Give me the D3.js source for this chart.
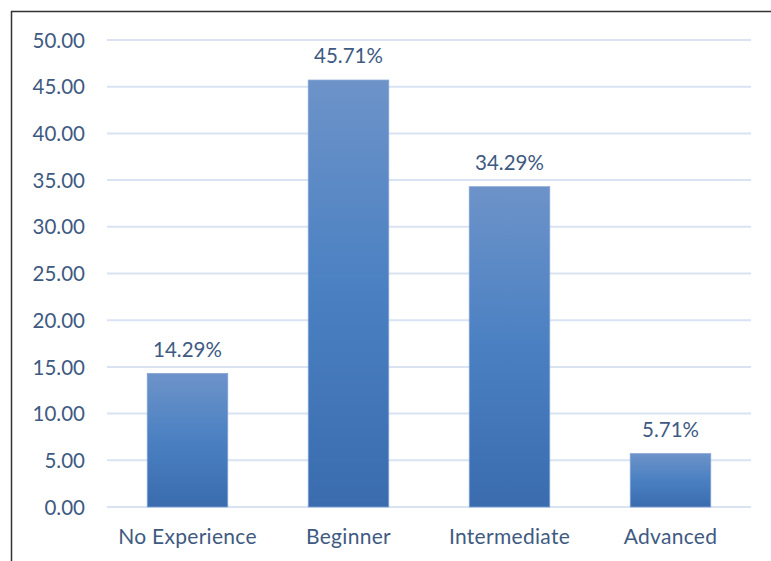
<!DOCTYPE html>
<html>
<head>
<meta charset="utf-8">
<script src="https://cdn.jsdelivr.net/npm/d3@7"></script>
<style>
  html, body { margin: 0; padding: 0; background: #fff; }
  svg { display: block; }
  text { font-family: Lato, "Open Sans", sans-serif; fill: #3e5a82; }
</style>
</head>
<body>
<script>
// Experience level distribution (percent of respondents)
const categories = ["No Experience", "Beginner", "Intermediate", "Advanced"];
const values = [14.29, 45.71, 34.29, 5.71];
const tickValues = [0, 5, 10, 15, 20, 25, 30, 35, 40, 45, 50];

const W = 771, H = 561;
const margin = { left: 107, top: 40 };
const plotRight = 751, plotBottom = 507;
const textColor = "#3e5a82";

const svg = d3.select("body").append("svg")
  .attr("width", W).attr("height", H);

const defs = svg.append("defs");
const grad = defs.append("linearGradient")
  .attr("id", "barGrad").attr("x1", 0).attr("y1", 0).attr("x2", 0).attr("y2", 1);
grad.append("stop").attr("offset", "0%").attr("stop-color", "#6d93c9");
grad.append("stop").attr("offset", "50%").attr("stop-color", "#4a80c2");
grad.append("stop").attr("offset", "100%").attr("stop-color", "#3a6cae");

// Chart frame (left and top edges visible)
svg.append("line").attr("x1", 11.5).attr("x2", 11.5).attr("y1", 11).attr("y2", H)
  .attr("stroke", "#333").attr("stroke-width", 1.5);
svg.append("line").attr("x1", 11).attr("x2", W).attr("y1", 11.5).attr("y2", 11.5)
  .attr("stroke", "#333").attr("stroke-width", 1.5);

const x = d3.scaleBand().domain(categories)
  .range([margin.left, plotRight]).paddingInner(0.5).paddingOuter(0.25);
const y = d3.scaleLinear().domain([0, 50]).range([plotBottom, margin.top]);

// Gridlines
svg.append("g")
  .selectAll("line").data(tickValues).join("line")
  .attr("x1", margin.left).attr("x2", plotRight)
  .attr("y1", d => y(d)).attr("y2", d => y(d))
  .attr("stroke", "#d9e3f2").attr("stroke-width", 2);

// Y axis labels
const yAxis = d3.axisLeft(y).tickValues(tickValues).tickFormat(d3.format(".2f")).tickSize(0).tickPadding(0);
svg.append("g").attr("transform", "translate(85,0)").call(yAxis)
  .call(g => g.select(".domain").remove())
  .selectAll("text")
  .attr("font-size", 20.5).attr("font-family", "Lato, sans-serif").attr("fill", textColor)
  .attr("dy", "0.35em");

// Bars
svg.append("g").selectAll("rect").data(values).join("rect")
  .attr("x", (d, i) => x(categories[i]))
  .attr("width", x.bandwidth())
  .attr("y", d => y(d))
  .attr("height", d => plotBottom - y(d))
  .attr("fill", "url(#barGrad)")
  .attr("stroke", "#7fa2d4").attr("stroke-width", 0.8);

// Value labels
svg.append("g").selectAll("text").data(values).join("text")
  .attr("x", (d, i) => x(categories[i]) + x.bandwidth() / 2)
  .attr("y", d => y(d) - 17)
  .attr("text-anchor", "middle").attr("font-size", 20.5)
  .attr("fill", textColor)
  .text(d => d.toFixed(2) + "%");

// Category labels
const xAxis = d3.axisBottom(x).tickSize(0).tickPadding(0);
svg.append("g").attr("transform", `translate(0,${plotBottom})`).call(xAxis)
  .call(g => g.select(".domain").remove())
  .selectAll("text")
  .attr("font-size", 21).attr("font-family", "Lato, sans-serif").attr("fill", textColor)
  .attr("letter-spacing", "0.3px")
  .attr("dy", "1.75em");
</script>
</body>
</html>
